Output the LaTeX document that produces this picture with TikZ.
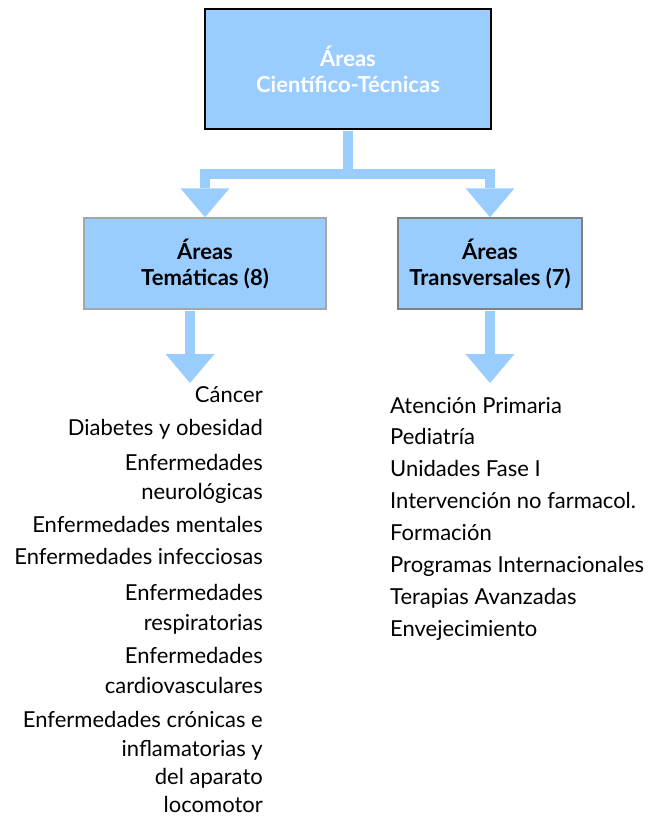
\documentclass[tikz,border=0pt]{standalone}
\usepackage{fontspec}
\setmainfont{Lato}
\usetikzlibrary{arrows.meta}

\definecolor{areablue}{HTML}{99CCFF}

\tikzset{
  areabox/.style={draw, fill=areablue, line width=1.5pt, align=center,
    font=\fontsize{22}{26}\selectfont\bfseries, inner sep=0pt},
  flow/.style={draw=areablue, line width=10pt},
  frombox/.style={shorten <=0.75pt},
  flowarrow/.style={flow, -{Triangle[length=29pt,width=49pt,line width=0pt]}},
  leftitem/.style={anchor=base east, inner sep=0pt, font=\fontsize{22}{30}\selectfont},
  rightitem/.style={anchor=base west, inner sep=0pt, font=\fontsize{22}{30}\selectfont},
}

\begin{document}
\begin{tikzpicture}[x=1pt,y=-1pt]
        \useasboundingbox (0,0) rectangle (651,819) ;

        % boxes
        \node[areabox, text=white, minimum width=286pt, minimum height=120pt] (cientificas) at (348,69) {Áreas\\Científico-Técnicas} ;
        \node[areabox, draw=gray!70, minimum width=242pt, minimum height=91pt] (tematicas) at (205,263.5) {Áreas\\Temáticas (8)} ;
        \node[areabox, draw=gray, minimum width=184pt, minimum height=91pt] (transversales) at (490,263.5) {Áreas\\Transversales (7)} ;

        % connectors
        \coordinate (fork) at (348,173.5) ;
        \coordinate (ltip) at (190,383) ;
        \coordinate (rtip) at (490,383) ;
        \draw[flow, frombox] (cientificas.south) -- ([yshift=-5pt]fork) ;
        \draw[flowarrow] (fork) -| (tematicas.north) ;
        \draw[flowarrow] (fork) -| (transversales.north) ;
        \draw[flowarrow, frombox] (ltip |- tematicas.south) -- (ltip) ;
        \draw[flowarrow, frombox] (transversales.south) -- (rtip) ;

        % thematic areas
        \node[leftitem] (cancer) at (263,402) {Cáncer} ;
        \node[leftitem] (diabetes) at (263,435) {Diabetes y obesidad} ;
        \node[leftitem] (neuroa) at (263,470) {Enfermedades} ;
        \node[leftitem] (neurob) at (263,499) {neurológicas} ;
        \node[leftitem] (mentales) at (263,532) {Enfermedades mentales} ;
        \node[leftitem] (infecciosas) at (263,564) {Enfermedades infecciosas} ;
        \node[leftitem] (respa) at (263,600) {Enfermedades} ;
        \node[leftitem] (respb) at (263,630) {respiratorias} ;
        \node[leftitem] (cardioa) at (263,663) {Enfermedades} ;
        \node[leftitem] (cardiob) at (263,693) {cardiovasculares} ;
        \node[leftitem] (cronicasa) at (263,727) {Enfermedades crónicas e} ;
        \node[leftitem] (cronicasb) at (263,756) {inflamatorias y} ;
        \node[leftitem] (cronicasc) at (263,784) {del aparato} ;
        \node[leftitem] (cronicasd) at (263,812) {locomotor} ;

        % transversal areas
        \node[rightitem] (primaria) at (390,413) {Atención Primaria} ;
        \node[rightitem] (pediatria) at (390,444) {Pediatría} ;
        \node[rightitem] (fase) at (390,476) {Unidades Fase I} ;
        \node[rightitem] (intervencion) at (390,508) {Intervención no farmacol.} ;
        \node[rightitem] (formacion) at (390,540) {Formación} ;
        \node[rightitem] (programas) at (390,572) {Programas Internacionales} ;
        \node[rightitem] (terapias) at (390,604) {Terapias Avanzadas} ;
        \node[rightitem] (envejecimiento) at (390,636) {Envejecimiento} ;
\end{tikzpicture}
\end{document}
